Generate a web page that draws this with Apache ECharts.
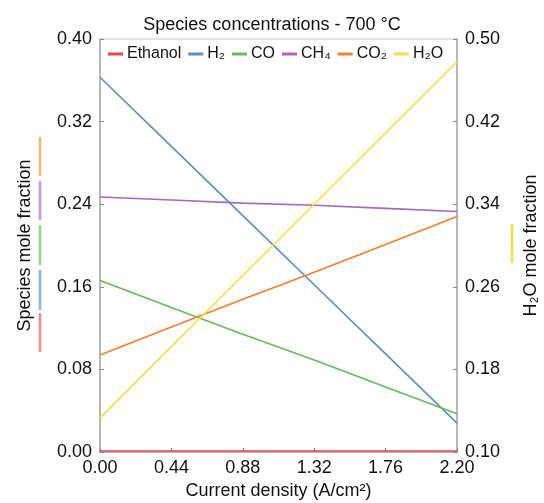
<!DOCTYPE html>
<html><head><meta charset="utf-8">
<script src="https://cdn.jsdelivr.net/npm/echarts@6/dist/echarts.min.js"></script>
<style>html,body{margin:0;padding:0;background:#fff}#c{width:544px;height:503px}</style>
</head><body><div id="c"></div>
<script>
var xValues = [0.00, 0.44, 0.88, 1.32, 1.76, 2.20];
var xTicks = [0.00, 0.44, 0.88, 1.32, 1.76, 2.20];
var ethanol = [0.001, 0.001, 0.001, 0.001, 0.001, 0.001];
var h2 = [0.363, 0.296, 0.229, 0.162, 0.095, 0.028];
var co = [0.166, 0.140, 0.114, 0.089, 0.063, 0.037];
var ch4 = [0.247, 0.244, 0.241, 0.239, 0.236, 0.233];
var co2 = [0.094, 0.121, 0.148, 0.174, 0.201, 0.228];
var h2o = [0.133, 0.202, 0.271, 0.340, 0.409, 0.478];
var seriesNames = ['Ethanol', 'H₂', 'CO', 'CH₄', 'CO₂', 'H₂O'];
var colors = ['#e8464a', '#5a8fc2', '#66bb5c', '#a668bd', '#f57f2f', '#f4e04a'];

function pair(arr){ return xValues.map(function(x,i){return [x, arr[i]];}); }
var dataArr = [ethanol, h2, co, ch4, co2, h2o];
var font = 'Liberation Sans, Arial, sans-serif';
var chart = echarts.init(document.getElementById('c'));
var series = dataArr.map(function(d,i){
  return {name: seriesNames[i], type:'line', data: pair(d), yAxisIndex: i===5?1:0,
    symbol:'none', lineStyle:{width:1.6, color: colors[i]}, itemStyle:{color: colors[i]}, z: i===0?1:2};
});
var fmt = function(v){return (Math.round(v*100)/100).toFixed(2);};
var segs = [[313,352,'#f28b8b'],[270,310,'#8fb3d8'],[225,265,'#98d08f'],[181,220,'#c59ad6'],[137,176,'#f8b476']];
var graphics = segs.map(function(s){return {type:'line', shape:{x1:40,y1:s[0],x2:40,y2:s[1]}, style:{stroke:s[2], lineWidth:2.5}};});
graphics.push({type:'line', shape:{x1:512,y1:224,x2:512,y2:263}, style:{stroke:'#f4e04a', lineWidth:2.5}});
chart.setOption({
  animation:false,
  backgroundColor:'#fff',
  title:{text:'Species concentrations - 700 °C', left:'center', top:11, textStyle:{fontFamily:font, fontSize:18, fontWeight:'normal', color:'#111'}},
  grid:{left:100, right:87, top:39, bottom:51, containLabel:false, outerBoundsMode:'none',
    show:true, borderColor:'#c8c8c8', borderWidth:1, backgroundColor:'transparent'},
  legend:{top:46, left:108, itemGap:7, itemWidth:15, itemHeight:3, icon:'rect', padding:0,
    textStyle:{fontFamily:font, fontSize:16, color:'#111', padding:[0,0,0,-1]}, data: seriesNames},
  xAxis:{type:'value', min:0, max:2.2, interval:0.44,
    name:'Current density (A/cm²)', nameLocation:'middle', nameGap:30,
    nameTextStyle:{fontFamily:font, fontSize:18, color:'#111'},
    axisLine:{lineStyle:{color:'#aaa', width:1.5}},
    axisTick:{inside:true, length:4, lineStyle:{color:'#888'}},
    axisLabel:{formatter:fmt, fontFamily:font, fontSize:18, color:'#111', margin:7},
    splitLine:{show:false}},
  yAxis:[{type:'value', min:0, max:0.4, interval:0.08,
    name:'Species mole fraction', nameLocation:'middle', nameGap:66, nameRotate:90,
    nameTextStyle:{fontFamily:font, fontSize:18, color:'#111'},
    axisLine:{show:true, lineStyle:{color:'#aaa', width:1.5}},
    axisTick:{show:true, inside:true, length:4, lineStyle:{color:'#888'}},
    axisLabel:{formatter:fmt, fontFamily:font, fontSize:18, color:'#111', margin:8},
    splitLine:{show:false}},
   {type:'value', min:0.1, max:0.5, interval:0.08, position:'right',
    name:'H₂O mole fraction', nameLocation:'middle', nameGap:65, nameRotate:90,
    nameTextStyle:{fontFamily:font, fontSize:18, color:'#111'},
    axisLine:{show:true, lineStyle:{color:'#aaa', width:1.5}},
    axisTick:{show:true, inside:true, length:4, lineStyle:{color:'#888'}},
    axisLabel:{formatter:fmt, fontFamily:font, fontSize:18, color:'#111', margin:8},
    splitLine:{show:false}}],
  graphic: graphics,
  series: series
});
</script></body></html>
